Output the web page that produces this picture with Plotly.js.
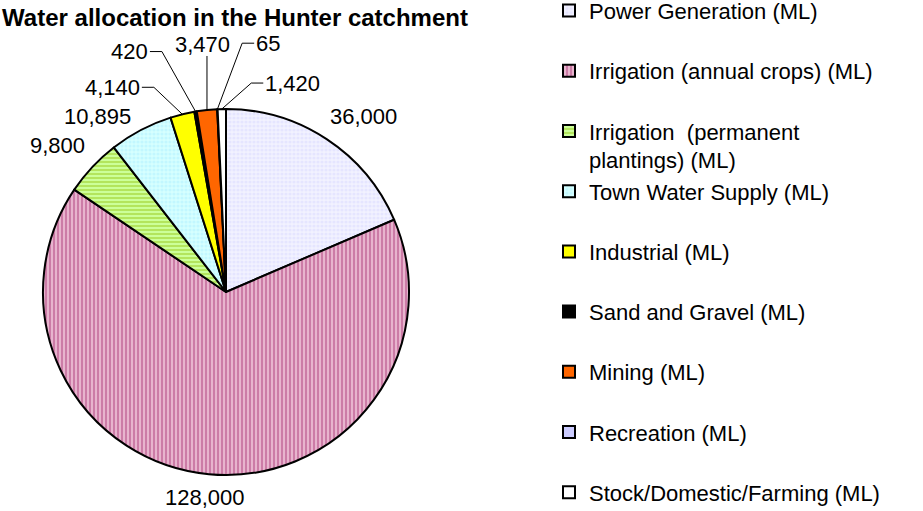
<!DOCTYPE html>
<html>
<head>
<meta charset="utf-8">
<script src="https://cdn.plot.ly/plotly-3.0.1.min.js"></script>
<style>html,body{margin:0;padding:0;background:#fff;}#chart{width:923px;height:511px;}</style>
</head>
<body>
<div id="chart"></div>
<script>
const categories = [
  "Power Generation (ML)",
  "Irrigation (annual crops) (ML)",
  "Irrigation\u00a0 (permanent<br>plantings) (ML)",
  "Town Water Supply (ML)",
  "Industrial (ML)",
  "Sand and Gravel (ML)",
  "Mining (ML)",
  "Recreation (ML)",
  "Stock/Domestic/Farming (ML)"
];
const values = [36000, 128000, 9800, 10895, 4140, 420, 3470, 65, 1420];
const colors = ["#F2F2FF", "#E8B4CE", "#CCFF99", "#D6FFFF", "#FFFF00", "#000000", "#FF6600", "#CCCCFF", "#FFFFFF"];
const patternShapes = [".", "|", "-", ".", "", "", "", "", ""];
const patternFg = ["#D8D8FF", "#B0447F", "#99CC22", "#AEEFFF", "#000", "#000", "#000", "#000", "#000"];

// label placement (pixel offsets from the slice's outer edge at mid-angle) and leader-line style
const labelOffsetX = [37, -4, -35, -43, -70, -66, -4, 51, 71];
const labelOffsetY = [-23, 23, -21, -14, -27, -60, -65, -66, -26];
const labelLeader = ["", "", "", "", "elbow", "elbow", "vertical", "elbow", "elbow"];

// legend labels padded to two lines so entries are evenly spaced like the original (last one needs no padding)
const legendLabels = categories.map((c, i) =>
  (c.indexOf("<br>") >= 0 || i === categories.length - 1) ? c : c + "<br> ");

const W = 923, H = 511;
const dom = {x: [43 / W, 409 / W], y: [1 - 475 / H, 1 - 109 / H]};
const FONT = "Liberation Sans, Arial, sans-serif";
const LABEL_SIZE = 22;

const trace = {
  type: "pie",
  labels: legendLabels,
  values: values,
  sort: false,
  direction: "clockwise",
  rotation: 0,
  textinfo: "none",
  marker: {
    colors: colors,
    line: {color: "#000", width: 2},
    pattern: {shape: patternShapes, fgcolor: patternFg, size: 4, solidity: 0.5, fillmode: "overlay"}
  },
  domain: dom,
  hoverinfo: "label+value"
};

// value labels anchored on each slice's outer edge at its mid-angle (computed from the data)
const total = values.reduce((a, b) => a + b, 0);
const cxPx = (dom.x[0] + dom.x[1]) / 2 * W;
const cyPx = (1 - (dom.y[0] + dom.y[1]) / 2) * H;
const rPx = Math.min((dom.x[1] - dom.x[0]) * W, (dom.y[1] - dom.y[0]) * H) / 2;
const textWidth = s => s.split("").reduce((w, ch) => w + (ch === "," ? 0.278 : 0.556), 0) * LABEL_SIZE;
const px2x = p => p / W, px2y = p => 1 - p / H;

let cum = 0;
const annotations = [];
const shapes = [];
values.forEach((v, i) => {
  const mid = (cum + v / 2) / total * 2 * Math.PI;
  cum += v;
  const ax = cxPx + rPx * Math.sin(mid);
  const ay = cyPx - rPx * Math.cos(mid);
  const txt = v.toLocaleString("en-US");
  annotations.push({
    x: px2x(ax), y: px2y(ay), xref: "paper", yref: "paper",
    text: txt, showarrow: false,
    font: {family: FONT, size: LABEL_SIZE, color: "#000"},
    xanchor: "center", yanchor: "middle",
    xshift: labelOffsetX[i], yshift: -labelOffsetY[i]
  });
  if (labelLeader[i]) {
    const tx = ax + labelOffsetX[i], ty = ay + labelOffsetY[i];
    let path;
    if (labelLeader[i] === "vertical") {
      path = `M${px2x(ax)},${px2y(ay)} L${px2x(ax)},${px2y(ty + LABEL_SIZE * 0.5)}`;
    } else {
      const side = tx < ax ? 1 : -1; // leader leaves the text on the side facing the slice
      const ex = tx + side * (textWidth(txt) / 2 + 2);
      const elbow = ex + side * 12;
      path = `M${px2x(ax)},${px2y(ay)} L${px2x(elbow)},${px2y(ty)} L${px2x(ex)},${px2y(ty)}`;
    }
    shapes.push({type: "path", xref: "paper", yref: "paper", path: path,
      line: {color: "#000", width: 1}});
  }
});

const layout = {
  width: W, height: H,
  margin: {l: 0, r: 0, t: 0, b: 0, autoexpand: false},
  paper_bgcolor: "#fff",
  font: {family: FONT, color: "#000"},
  title: {
    text: "<b>Water allocation in the Hunter catchment</b>",
    font: {family: FONT, size: 24, color: "#000"},
    x: 235 / W, xanchor: "center", xref: "container",
    y: 1 - 18 / H, yanchor: "middle", yref: "container"
  },
  showlegend: true,
  legend: {
    x: 549 / W, xanchor: "left", y: 1.02, yanchor: "top",
    font: {family: FONT, size: 22, color: "#000"},
    valign: "top",
    maxheight: 1000,
    bgcolor: "rgba(0,0,0,0)",
    traceorder: "normal"
  },
  annotations: annotations,
  shapes: shapes
};

Plotly.newPlot("chart", [trace], layout, {displayModeBar: false, staticPlot: true});
</script>
</body>
</html>
